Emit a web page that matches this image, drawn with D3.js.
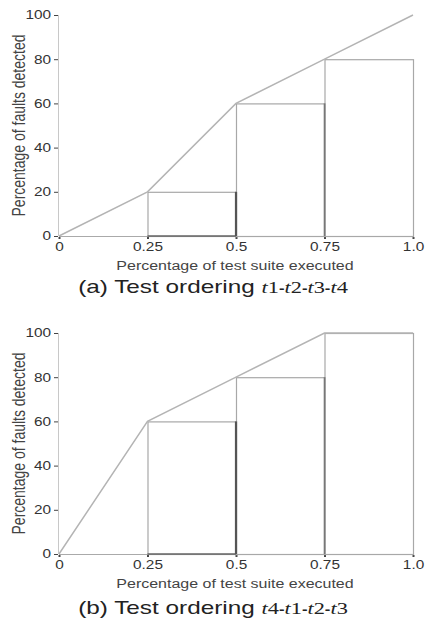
<!DOCTYPE html>
<html>
<head>
<meta charset="utf-8">
<script src="https://cdn.jsdelivr.net/npm/d3@7"></script>
<style>
  body { margin: 0; background: #fff; }
  svg { display: block; font-family: "Liberation Sans", Arial, sans-serif; }
</style>
</head>
<body>
<svg id="chart" width="425" height="621"></svg>
<script>
// DATA
const steps = [0, 0.25, 0.5, 0.75, 1.0];
const xTickLabels = ["0", "0.25", "0.5", "0.75", "1.0"];
const yTicks = [0, 20, 40, 60, 80, 100];
const faultsA = [0, 20, 60, 80, 100];
const faultsB = [0, 60, 80, 100, 100];
const orderA = ["t1", "t2", "t3", "t4"];
const orderB = ["t4", "t1", "t2", "t3"];

// the scanned figure is stretched sideways, so text gets a horizontal scale
const SX = 1.28;

const svg = d3.select("#chart");

const x = d3.scaleLinear().domain([0, 1]).range([59, 413]);

function drawPanel(top, faults, label, order, capDy) {
  // y scale: 0 at bottom of plot, 100 at top
  const y = d3.scaleLinear().domain([0, 100]).range([top + 221, top]);
  const g = svg.append("g");

  // faint y axis line
  g.append("line")
    .attr("x1", 58.5).attr("x2", 58.5)
    .attr("y1", y(100)).attr("y2", y(0))
    .attr("stroke", "#c8c8c8").attr("stroke-width", 1);

  // y ticks + labels
  const yAxis = d3.axisLeft(y).tickValues(yTicks).tickSize(4).tickPadding(0);
  const ya = g.append("g")
    .attr("transform", "translate(58,0)")
    .call(yAxis);
  ya.select(".domain").remove();
  ya.selectAll(".tick line").attr("stroke", "#444");
  ya.selectAll(".tick text")
    .attr("x", null)
    .attr("transform", `translate(-7,0) scale(${SX},1)`)
    .attr("fill", "#333")
    .style("font-size", "12px")
    .style("font-family", "Liberation Sans, Arial, sans-serif");

  // x axis baseline
  g.append("line")
    .attr("x1", x(0)).attr("x2", x(1))
    .attr("y1", y(0) + 0.5).attr("y2", y(0) + 0.5)
    .attr("stroke", "#aaa").attr("stroke-width", 1);

  // x ticks + labels
  const xAxis = d3.axisBottom(x).tickValues(steps)
    .tickFormat((d, i) => xTickLabels[i]).tickSize(2).tickPadding(3);
  const xa = g.append("g")
    .attr("transform", `translate(0,${y(0) + 1})`)
    .call(xAxis);
  xa.select(".domain").remove();
  xa.selectAll(".tick line").attr("stroke", "#444").attr("stroke-width", 2);
  xa.selectAll(".tick text")
    .attr("transform", `scale(${SX},1)`)
    .attr("fill", "#333")
    .style("font-size", "12px")
    .style("font-family", "Liberation Sans, Arial, sans-serif");

  // rectangles: span steps[i]..steps[i+1], height = faults at steps[i]
  const rects = d3.range(1, steps.length - 1).map(i => ({
    x0: steps[i], x1: steps[i + 1], h: faults[i]
  }));
  g.selectAll(".bar")
    .data(rects)
    .enter()
    .append("rect")
    .attr("class", "bar")
    .attr("x", d => x(d.x0) + 0.5)
    .attr("y", d => y(d.h) + 0.5)
    .attr("width", d => x(d.x1) - x(d.x0))
    .attr("height", d => y(0) - y(d.h))
    .attr("fill", "none")
    .attr("stroke", "#a8a8a8")
    .attr("stroke-width", 1.2);

  // emphasised edges
  const r0 = rects[0], r1 = rects[1];
  g.append("line")
    .attr("x1", x(r0.x0)).attr("x2", x(r0.x1))
    .attr("y1", y(0)).attr("y2", y(0))
    .attr("stroke", "#666").attr("stroke-width", 1.6);
  g.append("line")
    .attr("x1", x(r0.x1)).attr("x2", x(r0.x1))
    .attr("y1", y(r0.h)).attr("y2", y(0))
    .attr("stroke", "#555").attr("stroke-width", 2.2);
  g.append("line")
    .attr("x1", x(r1.x1)).attr("x2", x(r1.x1))
    .attr("y1", y(r1.h)).attr("y2", y(0))
    .attr("stroke", "#777").attr("stroke-width", 1.6);

  // cumulative line
  const line = d3.line().x((d, i) => x(steps[i])).y(d => y(d));
  g.append("path")
    .attr("d", line(faults))
    .attr("fill", "none")
    .attr("stroke", "#b4b4b4")
    .attr("stroke-width", 1.5);

  // axis titles
  g.append("text")
    .attr("transform", `translate(25,${(y(0) + y(100)) / 2}) rotate(-90) scale(1,${SX})`)
    .attr("text-anchor", "middle")
    .attr("fill", "#444")
    .style("font-size", "14px")
    .text("Percentage of faults detected");

  g.append("text")
    .attr("transform", `translate(235,${y(0) + 34}) scale(${SX},1)`)
    .attr("text-anchor", "middle")
    .attr("fill", "#444")
    .style("font-size", "12.5px")
    .text("Percentage of test suite executed");

  // caption
  const cap = g.append("text")
    .attr("transform", `translate(213,${y(0) + capDy}) scale(${SX},1)`)
    .attr("text-anchor", "middle")
    .attr("fill", "#222")
    .style("font-size", "19px");
  cap.append("tspan").text(`(${label}) Test ordering `);
  order.forEach((t, i) => {
    if (i > 0) cap.append("tspan").style("font-size", "13px").style("font-weight", "bold").text("-");
    cap.append("tspan")
      .style("font-family", "Liberation Serif, Times New Roman, serif")
      .style("font-style", "italic")
      .style("font-size", "17.5px")
      .text(t[0]);
    cap.append("tspan")
      .style("font-family", "Liberation Serif, Times New Roman, serif")
      .style("font-size", "17.5px")
      .text(t.slice(1));
  });
}

drawPanel(15, faultsA, "a", orderA, 57);
drawPanel(333, faultsB, "b", orderB, 60);
</script>
</body>
</html>
